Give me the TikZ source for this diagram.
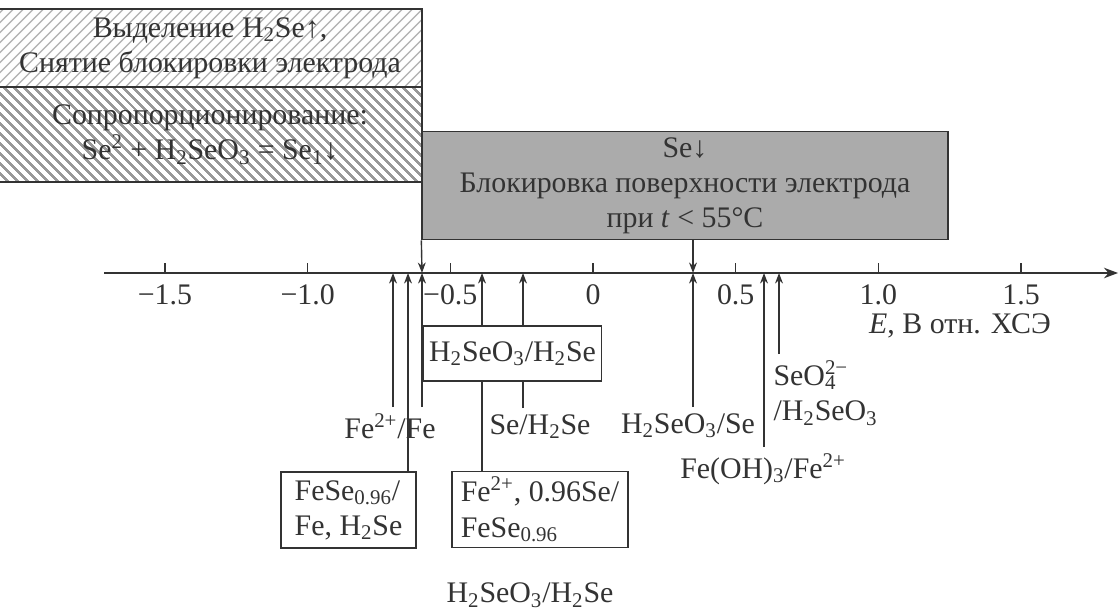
\documentclass[tikz,border=0pt]{standalone}
\usepackage{fontspec}
\setmainfont{Liberation Serif}
\usetikzlibrary{arrows.meta,patterns.meta,calc}
\definecolor{inkgray}{HTML}{333333}
\definecolor{boxgray}{HTML}{ABABAB}
\newcommand{\ix}[1]{\textsubscript{#1}}
\newcommand{\cg}[1]{\textsuperscript{#1}}

\begin{document}
\begin{tikzpicture}[x=0.02cm,y=-0.02cm,font=\fontsize{17}{20}\selectfont,
  color=inkgray,line width=0.8pt,
  tip/.style={-{Stealth[length=6pt,width=4.5pt]}},
  hatchup/.style={pattern={Lines[angle=45,distance=4pt,line width=0.9pt]},pattern color=black!28},
  hatchdn/.style={pattern={Lines[angle=-45,distance=4pt,line width=1.5pt]},pattern color=black!40},
  frame/.style={draw,align=left}]
\useasboundingbox (0,0) rectangle (1118,611);

% regions above the axis
\node[hatchup,draw,align=center,minimum width=8.48cm,minimum height=1.56cm] (h2seup) at (210,48)
      {Выделение H\ix{2}Se↑,\\Снятие блокировки электрода};
\node[hatchdn,draw,align=center,minimum width=8.48cm,minimum height=1.9cm] (coprop) at (210,134.5)
      {Сопропорционирование:\\Se\cg{2} + H\ix{2}SeO\ix{3} = Se\ix{1}↓};
\node[draw,fill=boxgray,align=center,minimum width=10.52cm,minimum height=2.02cm] (sebox) at (685,185.5)
      {Se↓\\Блокировка поверхности электрода\\при \textit{t} < 55°C};

% potential axis
\coordinate (o) at (104,273);
\coordinate (e) at (1118,273);
\draw[-{Stealth[length=8pt,width=6pt]}] (o) -- (e);
\foreach \v/\t [count=\i] in {-1.5/−1.5,-1.0/−1.0,-0.5/−0.5,0/0,0.5/0.5,1.0/1.0,1.5/1.5} {
  \draw ({593+285.4*\v},273) -- ++(0,-10);
  \node (t\i) at ({593+285.4*\v},295) {\t};
}
\node (elabel) at (960,326) {\textit{E}, В отн. ХСЭ};

\coordinate (pa) at (393,273);
\coordinate (pb) at (408,273);
\coordinate (pc) at (422,273);
\coordinate (pd) at (482,273);
\coordinate (pe) at (523,273);
\coordinate (pf) at (693,273);
\coordinate (pg) at (764,273);
\coordinate (ph) at (779,273);

% couples below the axis
\node[frame,minimum width=3.5cm,minimum height=1.1cm] (h2sebox) at (512.5,353.5) {H\ix{2}SeO\ix{3}/H\ix{2}Se};
\node[anchor=north] (fefe) at (390,407) {Fe\cg{2+}/Fe};
\node[anchor=north] (sehse) at (540,408) {Se/H\ix{2}Se};
\node[anchor=north] (seo3se) at (688,407) {H\ix{2}SeO\ix{3}/Se};
\node[anchor=north] (feoh) at (763,447) {Fe(OH)\ix{3}/Fe\cg{2+}};
\node[anchor=north west,align=left] (seo4) at (767,354) {SeO\rlap{\ix{4}}\cg{2−}\\/H\ix{2}SeO\ix{3}};
\node[frame,minimum width=2.7cm,minimum height=1.52cm] (fesebox) at (348.5,510) {FeSe\ix{0.96}/\\Fe, H\ix{2}Se};
\node[frame,minimum width=3.52cm,minimum height=1.5cm] (fese96box) at (540,509.5) {Fe\cg{2+}, 0.96Se/\\FeSe\ix{0.96}};
\node (h2sebot) at (530,595) {H\ix{2}SeO\ix{3}/H\ix{2}Se};

% arrows to the axis
\draw[tip] (sebox.south west) -- (pc);
\draw[tip] (sebox.south -| pf) -- (pf);
\draw[tip] (fefe.north -| pa) -- (pa);
\draw[tip] (fesebox.north -| pb) -- (pb);
\draw[tip] (fefe.north -| pc) -- (pc);
\draw[tip] (h2sebox.north -| pd) -- (pd);
\draw[tip] (h2sebox.north -| pe) -- (pe);
\draw (fese96box.north -| pd) -- (h2sebox.south -| pd);
\draw (sehse.north -| pe) -- (h2sebox.south -| pe);
\draw[tip] (seo3se.north -| pf) -- (pf);
\draw[tip] (feoh.north -| pg) -- (pg);
\draw[tip] (seo4.north -| ph) -- (ph);
\end{tikzpicture}
\end{document}
